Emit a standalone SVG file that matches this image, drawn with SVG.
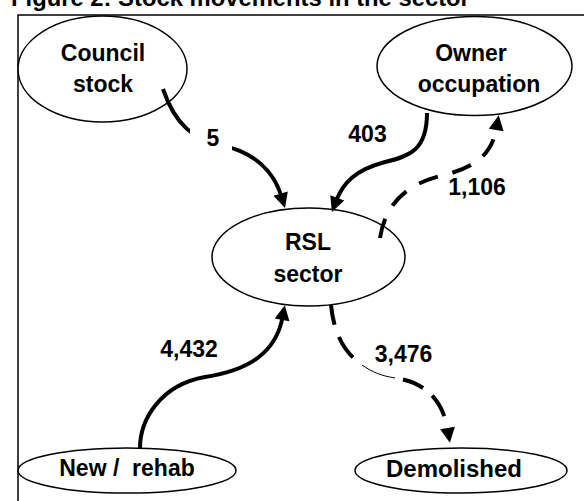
<svg xmlns="http://www.w3.org/2000/svg" width="584" height="501" viewBox="0 0 584 501">
<style>
text{font-family:"Liberation Sans",Arial,sans-serif;font-weight:bold;font-size:23px;fill:#000;text-anchor:middle;white-space:pre}
.node ellipse{fill:#fff;stroke:#000;stroke-width:1.5}
.solid{fill:none;stroke:#000;stroke-width:4;marker-end:url(#arr)}
.dash{fill:none;stroke:#000;stroke-width:4}
.thin{fill:none;stroke:#000;stroke-width:1}
.lbl{fill:#fff;stroke:none}
</style>
<defs>
<marker id="arr" markerUnits="userSpaceOnUse" markerWidth="16" markerHeight="16" refX="3" refY="7.5" orient="auto" overflow="visible">
<path d="M0,0 L15,7.5 L0,15 Z" fill="#000"/>
</marker>
</defs>
<rect width="584" height="501" fill="#fff"/>
<text x="11" y="6" style="text-anchor:start;font-size:23.8px">Figure 2: Stock movements in the sector</text>
<rect x="18" y="15" width="600" height="600" fill="none" stroke="#000" stroke-width="1.5"/>

<g id="council" class="node">
<ellipse cx="102.5" cy="69" rx="84.5" ry="53"/>
<text x="103" y="61">Council</text>
<text x="103" y="92">stock</text>
</g>
<g id="owner" class="node">
<ellipse cx="474.5" cy="66" rx="97.5" ry="49.5"/>
<text x="471" y="61">Owner</text>
<text x="479" y="92">occupation</text>
</g>
<g id="rsl" class="node">
<ellipse cx="308.5" cy="257" rx="96.5" ry="49"/>
<text x="308" y="250">RSL</text>
<text x="308" y="282">sector</text>
</g>
<g id="newrehab" class="node">
<ellipse cx="127" cy="470.5" rx="109" ry="22.5"/>
<text x="127" y="476">New /  rehab</text>
</g>
<g id="demolished" class="node">
<ellipse cx="461" cy="470.5" rx="106" ry="22.5"/>
<text x="454" y="477" style="font-size:24px">Demolished</text>
</g>

<g id="connectors">
<path class="solid" d="M163,89 C175,125 195,140 220,145 C255,152 274,172 281.5,196.5"/>
<rect class="lbl" x="190" y="126" width="42" height="24"/>
<text x="213" y="146">5</text>

<path class="solid" d="M427,113 C427,150 410,156 385,162 C355,170 343,183 336.2,200.7"/>
<text x="367.5" y="142">403</text>

<path class="dash" stroke-dasharray="20 15" marker-end="url(#arr)" d="M380,238 C385,205 405,185 440,176 C475,168 492,155 496.7,127"/>
<text x="477" y="195">1,106</text>

<path class="solid" d="M140,448 C140,420 160,385 205,377 C250,370 276,352 282.6,317"/>
<text x="189" y="357">4,432</text>

<path class="dash" stroke-dasharray="20 13 25 20" d="M331,305 C334,335 345,353 362,365"/>
<path class="thin" d="M362,365 C372,372 382,376 395,378"/>
<path class="dash" stroke-dasharray="0 8 22 12 24 40" marker-end="url(#arr)" d="M395,378 C425,382 443,400 448,431"/>
<text x="403.5" y="362">3,476</text>
</g>
</svg>
